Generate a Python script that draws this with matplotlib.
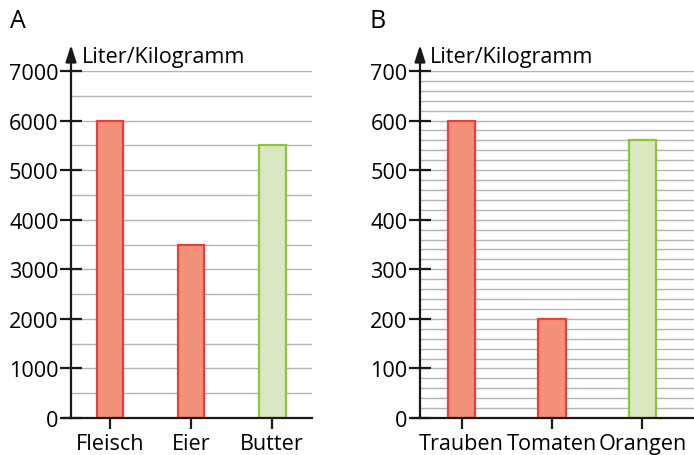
import matplotlib
matplotlib.use("Agg")
import matplotlib.pyplot as plt
import numpy as np

# Data
cats_a = ["Fleisch", "Eier", "Butter"]
vals_a = [6000, 3500, 5500]
cats_b = ["Trauben", "Tomaten", "Orangen"]
vals_b = [600, 200, 560]
kinds = ["red", "red", "green"]
ylabel = "Liter/Kilogramm"

plt.rcParams['font.family'] = ['Open Sans', 'DejaVu Sans']
FS = 15.6

fill = {"red": "#F4917B", "green": "#D9E8C1"}
edge = {"red": "#EE3E3C", "green": "#8CC63F"}

W, H = 694, 456
fig = plt.figure(figsize=(W / 100, H / 100), dpi=100)


def px_axes(x0, x1, ytop, ybot):
    return fig.add_axes([x0 / W, (H - ybot) / H, (x1 - x0) / W, (ybot - ytop) / H])


def panel(ax, cats, vals, ymax, major, minor, xlim, width, letter, letter_x, lab_x):
    x = np.arange(len(cats))
    ax.set_xlim(*xlim)
    ax.set_ylim(0, ymax)
    for v in np.arange(minor, ymax + minor / 2, minor):
        ax.axhline(v, color="#B3B3B3", lw=1.0, zorder=0)
    for xi, v, k in zip(x, vals, kinds):
        ax.bar(xi, v, width=width, color=fill[k], edgecolor=edge[k], linewidth=1.6, zorder=2)
    for s in ["top", "right", "left", "bottom"]:
        ax.spines[s].set_visible(False)
    ax.plot([-0.03, 1.0], [0, 0], transform=ax.transAxes, color="#1a1a1a", lw=1.6,
            clip_on=False, zorder=4)
    ax.annotate("", xy=(0, 1.075), xytext=(0, 0), xycoords="axes fraction",
                textcoords="axes fraction",
                arrowprops=dict(arrowstyle="-|>,head_length=1.0,head_width=0.32",
                                color="#1a1a1a", lw=1.6, shrinkA=0, shrinkB=0),
                zorder=5)
    ax.set_yticks(np.arange(0, ymax + 1, major))
    ax.set_yticklabels([str(int(v)) for v in np.arange(0, ymax + 1, major)], fontsize=FS)
    ax.tick_params(axis="y", direction="inout", length=16, width=1.6, color="#1a1a1a", pad=1)
    ax.set_xticks(x)
    ax.set_xticklabels(cats, fontsize=FS)
    ax.tick_params(axis="x", direction="inout", length=16, width=1.6, color="#1a1a1a", pad=3)
    ax.text(lab_x, 1.042, ylabel, transform=ax.transAxes, fontsize=FS, ha="left", va="center")
    fig.text(letter_x / W, (H - 21) / H, letter, fontsize=18, ha="left", va="center")


ax1 = px_axes(71, 312, 72, 419)
panel(ax1, cats_a, vals_a, 7000, 1000, 500, (-0.48, 2.49), 0.33, "A", 10, 0.045)
ax2 = px_axes(420, 694, 72, 419)
panel(ax2, cats_b, vals_b, 700, 100, 20, (-0.46, 2.57), 0.30, "B", 370, 0.035)

fig.savefig("out.png", dpi=100)
